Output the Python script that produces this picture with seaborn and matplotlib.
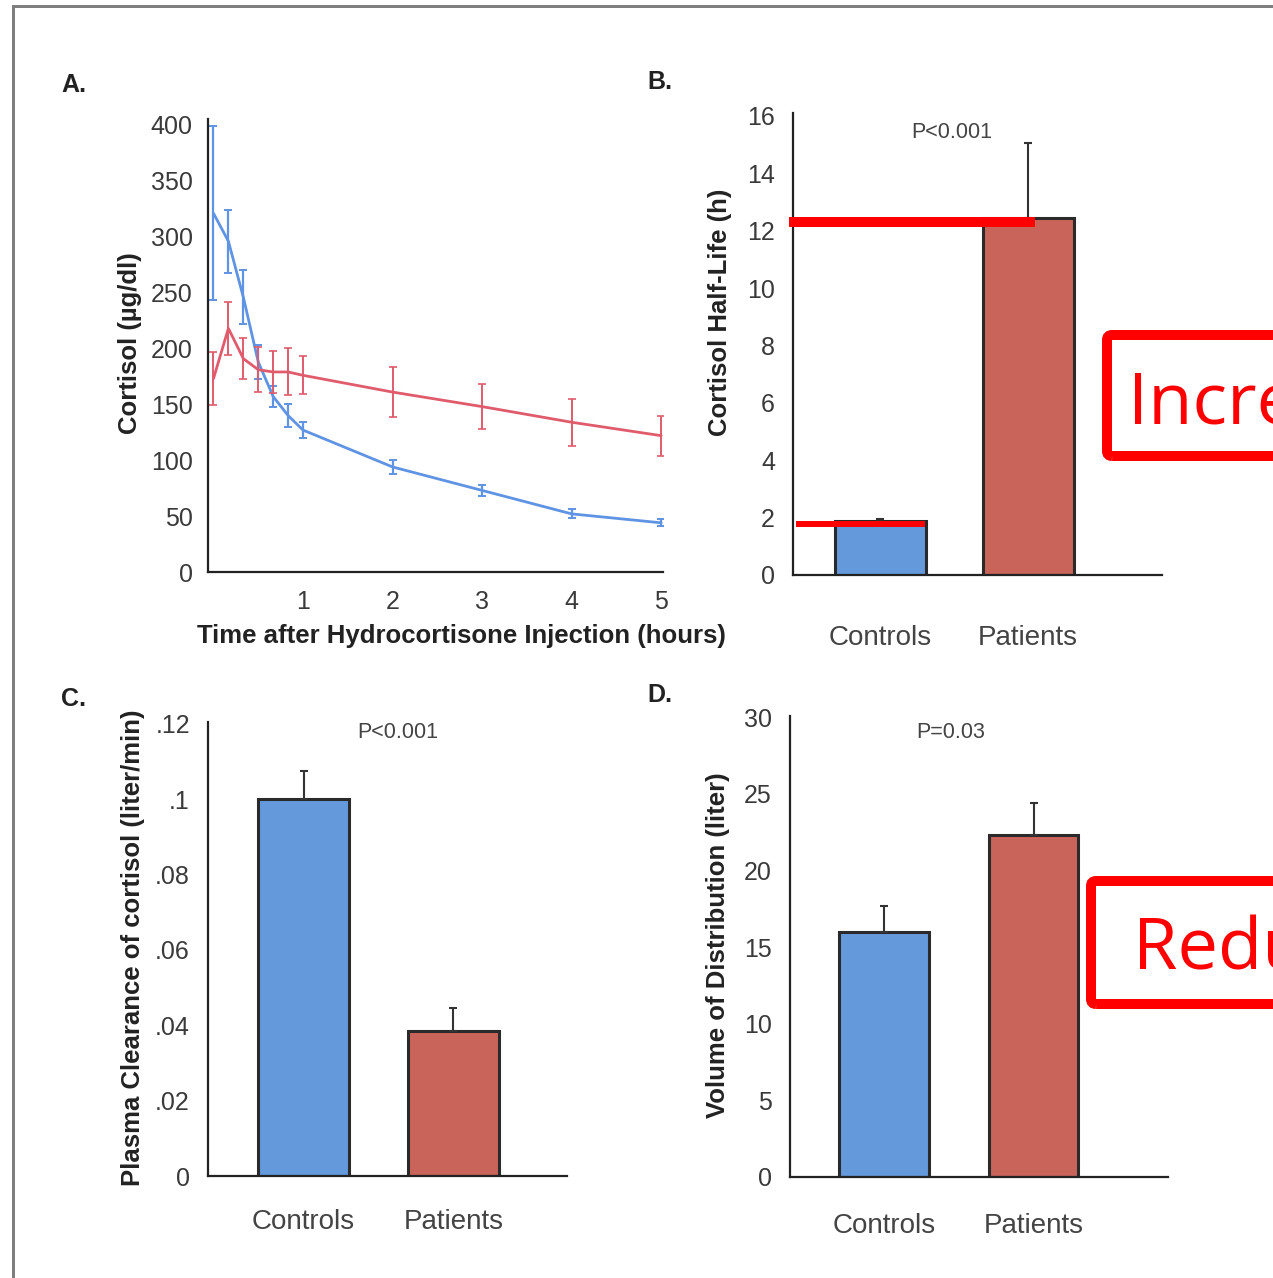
import numpy as np
import pandas as pd
import matplotlib
matplotlib.use("Agg")
import matplotlib.pyplot as plt
import seaborn as sns
from matplotlib.patches import FancyBboxPatch, Rectangle
from matplotlib.lines import Line2D
from matplotlib.ticker import FixedLocator, MultipleLocator

# ---------------- data ----------------
time_h = [0, 1/6, 1/3, 0.5, 2/3, 5/6, 1, 2, 3, 4, 5]
controls_cortisol = [321, 296, 246, 188, 157, 140, 127, 94, 73, 52, 44]
controls_err = [78, 28, 24, 15, 9, 10, 7, 6, 5, 4, 3]
patients_cortisol = [173, 218, 191, 181, 179, 179, 176, 161, 148, 134, 122]
patients_err = [24, 24, 18, 20, 19, 21, 17, 22, 20, 21, 18]

groups = ["Controls", "Patients"]
half_life = [1.89, 12.44]
half_life_err = [0.06, 2.6]
clearance = [0.100, 0.0385]
clearance_err = [0.0076, 0.0061]
vol_dist = [16.0, 22.3]
vol_dist_err = [1.7, 2.1]

a_xticks = [1, 2, 3, 4, 5]
a_yticks = [0, 50, 100, 150, 200, 250, 300, 350, 400]
b_yticks = [0, 2, 4, 6, 8, 10, 12, 14, 16]
c_yticks = [0, 0.02, 0.04, 0.06, 0.08, 0.10, 0.12]
c_ylabels = ["0", ".02", ".04", ".06", ".08", ".1", ".12"]
d_yticks = [0, 5, 10, 15, 20, 25, 30]

# ---------------- style ----------------
sns.set_style("white")
plt.rcParams["font.family"] = ["Liberation Sans", "DejaVu Sans"]

W, H = 1273, 1278
fig = plt.figure(figsize=(W / 100, H / 100), dpi=100)

BLUE_LINE = "#5f93e3"
RED_LINE = "#e05b6c"
BLUE_BAR = "#6499db"
RED_BAR = "#c9645b"
EDGE = "#2a2a2a"
TICK_COL = "#3a3a3a"
PX = 72 / 100  # points per pixel


def rect(l, t, r, b):
    return [l / W, 1 - b / H, (r - l) / W, (b - t) / H]


def fx(x):
    return x / W


def fy(y):
    return 1 - y / H


def style_axes(ax):
    for s in ["top", "right"]:
        ax.spines[s].set_visible(False)
    for s in ["left", "bottom"]:
        ax.spines[s].set_color("#222222")
        ax.spines[s].set_linewidth(1.6)
    ax.tick_params(axis="both", which="major", direction="out", length=5,
                   width=1.2, color="#222222", labelcolor=TICK_COL,
                   labelsize=18)
    ax.tick_params(axis="both", which="minor", direction="out", length=3,
                   width=1.0, color="#222222")
    ax.set_xlabel("")
    ax.set_ylabel("")


# ---------------- Panel A ----------------
axA = fig.add_axes(rect(208, 119.4, 663, 572))
sns.lineplot(x=time_h, y=controls_cortisol, ax=axA, color=BLUE_LINE, lw=2)
sns.lineplot(x=time_h, y=patients_cortisol, ax=axA, color=RED_LINE, lw=2)
axA.errorbar(time_h, controls_cortisol, yerr=controls_err, fmt="none",
             ecolor=BLUE_LINE, elinewidth=1.6, capsize=3, capthick=1.4)
axA.errorbar(time_h, patients_cortisol, yerr=patients_err, fmt="none",
             ecolor=RED_LINE, elinewidth=1.4, capsize=3, capthick=1.2)
axA.set_xlim(-0.061, 5.02)
axA.set_ylim(0, 405)
style_axes(axA)
axA.xaxis.set_major_locator(FixedLocator(a_xticks))
axA.set_xticklabels([str(v) for v in a_xticks])
axA.yaxis.set_major_locator(FixedLocator(a_yticks))
axA.set_yticklabels([str(v) for v in a_yticks])
axA.tick_params(axis="x", pad=8)
axA.tick_params(axis="y", pad=6)


# ---------------- bar panels ----------------
def bar_panel(box, values, errs, xlim, ylim, width, cat_pad):
    ax = fig.add_axes(rect(*box))
    df = pd.DataFrame({"group": groups, "value": values})
    sns.barplot(data=df, x="group", y="value", hue="group",
                palette=[BLUE_BAR, RED_BAR], width=width, saturation=1,
                edgecolor=EDGE, linewidth=2.2, legend=False, ax=ax)
    ax.errorbar([0, 1], values, yerr=[[0, 0], errs], fmt="none",
                ecolor="#333333", elinewidth=1.5, capsize=3, capthick=1.5,
                zorder=1)
    ax.set_xlim(*xlim)
    ax.set_ylim(*ylim)
    style_axes(ax)
    ax.tick_params(axis="x", length=0, pad=cat_pad, labelsize=20,
                   labelcolor="#444444")
    ax.tick_params(axis="y", pad=8)
    return ax


axB = bar_panel((793, 113, 1162, 575), half_life, half_life_err,
                (-0.588, 1.905), (0, 16.1), 0.615, 36)
axB.yaxis.set_major_locator(FixedLocator(b_yticks))
axB.set_yticklabels([str(v) for v in b_yticks])

axC = bar_panel((208, 722, 567, 1176), clearance, clearance_err,
                (-0.637, 1.757), (0, 0.1205), 0.607, 24)
axC.yaxis.set_major_locator(FixedLocator(c_yticks))
axC.set_yticklabels(c_ylabels)
axC.yaxis.set_minor_locator(MultipleLocator(0.01))

axD = bar_panel((790, 716, 1168, 1177), vol_dist, vol_dist_err,
                (-0.626, 1.898), (0, 30.07), 0.60, 26)
axD.yaxis.set_major_locator(FixedLocator(d_yticks))
axD.set_yticklabels([str(v) for v in d_yticks])
axD.yaxis.set_minor_locator(MultipleLocator(2.5))

# p-values
fig.text(fx(952), fy(132), "P<0.001", ha="center", va="center",
         fontsize=15.5, color="#444444")
fig.text(fx(398), fy(732), "P<0.001", ha="center", va="center",
         fontsize=15.5, color="#444444")
fig.text(fx(951), fy(732), "P=0.03", ha="center", va="center",
         fontsize=15.5, color="#444444")

# axis labels
lab = dict(fontsize=18.5, fontweight="bold", color="#222222",
           ha="center", va="center")
fig.text(fx(130), fy(343), "Cortisol (µg/dl)", rotation=90, **lab)
fig.text(fx(461), fy(636), "Time after Hydrocortisone Injection (hours)", **lab)
fig.text(fx(720), fy(312), "Cortisol Half-Life (h)", rotation=90, **lab)
fig.text(fx(133), fy(948), "Plasma Clearance of cortisol (liter/min)",
         rotation=90, **lab)
fig.text(fx(718), fy(945), "Volume of Distribution (liter)", rotation=90, **lab)

# panel letters
pl = dict(fontsize=18, fontweight="bold", color="#222222",
          ha="center", va="center")
fig.text(fx(74), fy(85), "A.", **pl)
fig.text(fx(660), fy(82), "B.", **pl)
fig.text(fx(74), fy(699), "C.", **pl)
fig.text(fx(660), fy(695), "D.", **pl)

# slide frame
fig.patches.append(Rectangle((fx(13), fy(1300)), fx(1300), fy(6.5) - fy(1300),
                             transform=fig.transFigure, fill=False,
                             edgecolor="#7f7f7f", linewidth=3 * PX,
                             zorder=0))

# red annotation lines
fig.lines.append(Line2D([fx(789), fx(1035)], [fy(222), fy(222)],
                        transform=fig.transFigure, color="#ff0000",
                        linewidth=10 * PX, solid_capstyle="butt", zorder=10))
fig.lines.append(Line2D([fx(796), fx(925)], [fy(524), fy(524)],
                        transform=fig.transFigure, color="#ff0000",
                        linewidth=6 * PX, solid_capstyle="butt", zorder=10))

# red annotation boxes
for (l, t, b) in [(1107, 335, 456), (1091, 881, 1004)]:
    fig.patches.append(FancyBboxPatch(
        (fx(l), fy(b)), fx(1320 - l), fy(t) - fy(b),
        boxstyle="round,pad=0,rounding_size=0.004",
        transform=fig.transFigure, fill=False, edgecolor="#ff0000",
        linewidth=10 * PX, zorder=10))

ann = dict(fontsize=52, color="#ff0000", ha="left", va="baseline",
           family=["Open Sans", "DejaVu Sans"])
fig.text(fx(1128), fy(424), "Incre", **ann)
fig.text(fx(1133), fy(970), "Redu", **ann)

fig.savefig("out.png", dpi=100)
